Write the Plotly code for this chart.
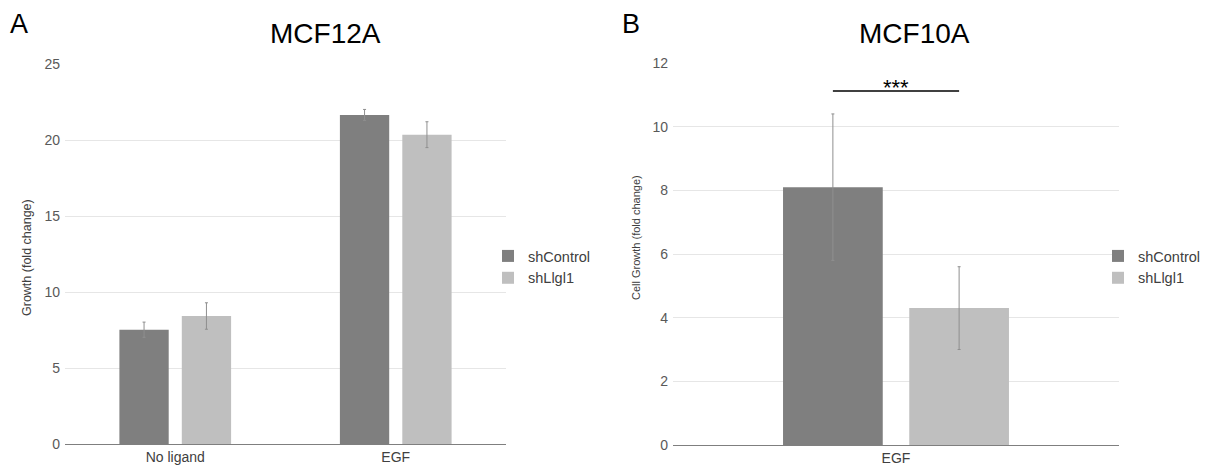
import plotly.graph_objects as go

# ---- data ----
groups = ["shControl", "shLlgl1"]
colors = ["#7f7f7f", "#bfbfbf"]

a_categories = ["No ligand", "EGF"]
a_shControl = [7.52, 21.65]
a_shControl_err = [0.5, 0.36]
a_shLlgl1 = [8.42, 20.35]
a_shLlgl1_err = [0.87, 0.85]
a_yticks = [0, 5, 10, 15, 20, 25]

b_categories = ["EGF"]
b_shControl = [8.1]
b_shControl_err = [2.3]
b_shLlgl1 = [4.3]
b_shLlgl1_err = [1.3]
b_yticks = [0, 2, 4, 6, 8, 10, 12]
b_sig_y = 11.12
b_sig_text = "***"

FONT = "Liberation Sans, Arial, sans-serif"
TICK = "#595959"
W, H = 1212, 472
bargap = 0.434
bargroupgap = 0.21

fig = go.Figure()

def add_bars(cats, vals, errs, name, color, xa, ya, legend):
    fig.add_trace(go.Bar(
        x=cats, y=vals, name=name, marker=dict(color=color, line=dict(width=0)),
        error_y=dict(type="data", array=errs, visible=True, color="#8f8f8f",
                     thickness=1, width=1.5),
        xaxis=xa, yaxis=ya, legend=legend, showlegend=True, offsetgroup=name,
    ))

add_bars(a_categories, a_shControl, a_shControl_err, groups[0], colors[0], "x", "y", "legend")
add_bars(a_categories, a_shLlgl1, a_shLlgl1_err, groups[1], colors[1], "x", "y", "legend")
add_bars(b_categories, b_shControl, b_shControl_err, groups[0], colors[0], "x2", "y2", "legend2")
add_bars(b_categories, b_shLlgl1, b_shLlgl1_err, groups[1], colors[1], "x2", "y2", "legend2")

# significance bar between the two bar centres of panel B
half = (1 - bargap) / 4
fig.add_shape(type="line", xref="x2", yref="y2", x0=-half, x1=half,
              y0=b_sig_y, y1=b_sig_y, line=dict(color="black", width=1.5))
fig.add_annotation(xref="x2", yref="y2", x=0, y=b_sig_y, text=b_sig_text,
                   showarrow=False, yanchor="middle", yshift=4,
                   font=dict(family=FONT, size=22, color="black"))

def px_x(p):
    return p / W

def px_y(p):
    return 1 - p / H

axis_common = dict(showgrid=False, showline=True, linecolor="#7f7f7f", linewidth=1,
                   ticks="", tickfont=dict(family=FONT, size=14, color="#404040"),
                   zeroline=False, fixedrange=True, automargin=False)
yaxis_common = dict(showgrid=True, gridcolor="#e6e6e6", gridwidth=1, showline=False,
                    ticks="", zeroline=False, tickfont=dict(family=FONT, size=14, color=TICK),
                    ticklabelstandoff=4, automargin=False, fixedrange=True)

leg_font = dict(family=FONT, size=14.5, color="#404040")
fig.update_layout(
    width=W, height=H,
    margin=dict(l=0, r=0, t=0, b=0),
    paper_bgcolor="white", plot_bgcolor="white",
    barmode="group", bargap=bargap, bargroupgap=bargroupgap,
    font=dict(family=FONT, color="#333"),
    xaxis=dict(domain=[px_x(65), px_x(506)], anchor="y", **axis_common),
    yaxis=dict(domain=[px_y(444), px_y(64)], range=[0, 25], tickvals=a_yticks,
               anchor="x", **yaxis_common),
    xaxis2=dict(domain=[px_x(673), px_x(1119)], anchor="y2", **axis_common),
    yaxis2=dict(domain=[px_y(445), px_y(63)], range=[0, 12], tickvals=b_yticks,
                anchor="x2", **yaxis_common),
    legend=dict(x=px_x(488), y=px_y(240), xanchor="left", yanchor="top",
                font=leg_font, bgcolor="rgba(0,0,0,0)", tracegroupgap=0, itemwidth=30),
    legend2=dict(x=px_x(1098), y=px_y(240), xanchor="left", yanchor="top",
                 font=leg_font, bgcolor="rgba(0,0,0,0)", tracegroupgap=0, itemwidth=30),
    showlegend=True,
)

annos = [
    dict(text="A", x=px_x(19), y=px_y(24), size=27),
    dict(text="B", x=px_x(631), y=px_y(24), size=27),
    dict(text="MCF12A", x=px_x(325), y=px_y(33), size=28),
    dict(text="MCF10A", x=px_x(914), y=px_y(33), size=28),
]
for a in annos:
    fig.add_annotation(xref="paper", yref="paper", x=a["x"], y=a["y"], text=a["text"],
                       showarrow=False, xanchor="center", yanchor="middle",
                       font=dict(family=FONT, size=a["size"], color="black"))

fig.add_annotation(xref="paper", yref="paper", x=px_x(27), y=px_y(258),
                   text="Growth (fold change)", textangle=-90, showarrow=False,
                   xanchor="center", yanchor="middle",
                   font=dict(family=FONT, size=12.5, color="#404040"))
fig.add_annotation(xref="paper", yref="paper", x=px_x(636), y=px_y(238),
                   text="Cell Growth (fold change)", textangle=-90, showarrow=False,
                   xanchor="center", yanchor="middle",
                   font=dict(family=FONT, size=11, color="#404040"))

fig.write_html("out.html")
